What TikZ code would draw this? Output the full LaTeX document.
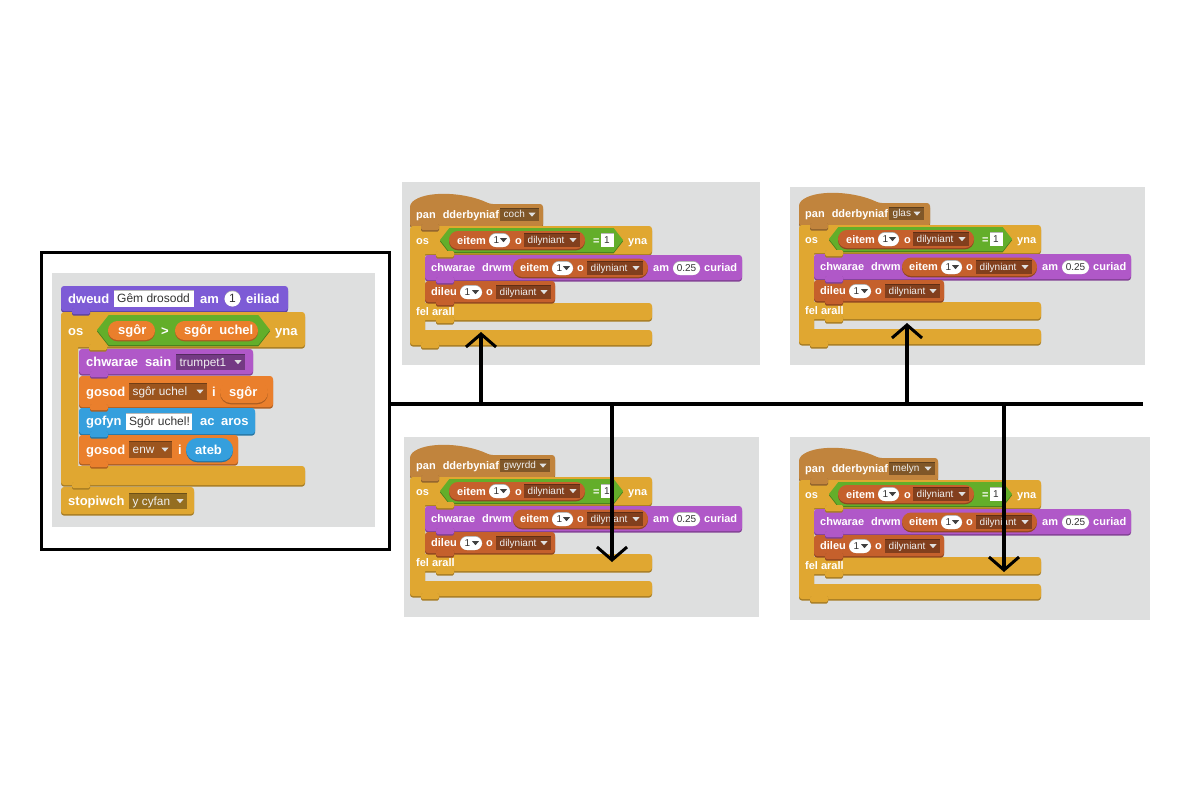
\documentclass[tikz,border=0pt]{standalone}
\usepackage{fontspec}
\setmainfont{Liberation Sans}
\usetikzlibrary{arrows.meta}
\pgfdeclarelayer{tabs}
\pgfsetlayers{main,tabs}
\definecolor{looks}{HTML}{7D5BD6}
\definecolor{sound}{HTML}{B058C8}
\definecolor{ctrl}{HTML}{E0A731}
\definecolor{oper}{HTML}{63AE2A}
\definecolor{data}{HTML}{EA7F2C}
\definecolor{list}{HTML}{C5602C}
\definecolor{events}{HTML}{C1843D}
\definecolor{sens}{HTML}{359FDD}
\definecolor{panel}{HTML}{DEDFDF}
\tikzset{
  bL/.style={anchor=base west,inner sep=0,text=white,font=\bfseries\fontsize{13}{15}\selectfont},
  bR/.style={anchor=base west,inner sep=0,text=white,font=\bfseries\fontsize{11}{13}\selectfont},
  ddL/.style={anchor=base west,inner sep=0,text=white!94!black,font=\fontsize{11.8}{13}\selectfont},
  ddR/.style={anchor=base west,inner sep=0,text=white!94!black,font=\fontsize{10}{11}\selectfont},
  inL/.style={anchor=base west,inner sep=0,text=black!80,font=\fontsize{12}{14}\selectfont},
  inR/.style={anchor=base west,inner sep=0,text=black!80,font=\fontsize{10}{12}\selectfont},
  conn/.style={line width=4.5pt,black},
  arr/.style={line width=4pt,black,-{Straight Barb[length=13pt,width=30pt,line width=3pt]}},
  framebox/.style={draw=black,line width=3pt,inner sep=0,minimum width=348pt,minimum height=297pt}
}
\newcommand\wsp{\hspace{7pt}}
\newcommand\tL[3]{\node[bL] at (#1,#2+4.7) {#3};}
\newcommand\tR[3]{\node[bR] at (#1,#2+4) {#3};}
% stack block body: x1 y1 x2 y2 colour
\newcommand\stk[5]{%
  \fill[#5!74!black,rounded corners=3] (#1,#2+1.6) rectangle (#3,#4+1.6);
  \fill[#5,rounded corners=3] (#1,#2) rectangle (#3,#4);}
% connection tab below a block: x (block left) y (block bottom) colour
\newcommand\tabm[3]{%
  \begin{pgfonlayer}{tabs}
  \fill[#3!74!black,rounded corners=1.5] (#1+11,#2-3) rectangle (#1+29,#2+4.6);
  \fill[#3,rounded corners=1.5] (#1+11,#2-3) rectangle (#1+29,#2+3);
  \end{pgfonlayer}}
% round reporter
\newcommand\rep[5]{%
  \pgfmathsetmacro\repr{(#4-#2)/2-0.05}%
  \fill[#5!72!black,rounded corners=\repr pt] (#1,#2+1.3) rectangle (#3,#4+1.3);
  \fill[#5,rounded corners=\repr pt] (#1,#2) rectangle (#3,#4);}
% boolean hexagon
\newcommand\hexb[5]{%
  \pgfmathsetmacro\hxh{(#4-#2)/2}\pgfmathsetmacro\hxs{0.78*\hxh}%
  \fill[#5!72!black] (#1,#2+\hxh+1.3) -- (#1+\hxs,#2+1.3) -- (#3-\hxs,#2+1.3) -- (#3,#2+\hxh+1.3) -- (#3-\hxs,#4+1.3) -- (#1+\hxs,#4+1.3) -- cycle;
  \fill[#5] (#1,#2+\hxh) -- (#1+\hxs,#2) -- (#3-\hxs,#2) -- (#3,#2+\hxh) -- (#3-\hxs,#4) -- (#1+\hxs,#4) -- cycle;}
% dropdown: style offset x1 y1 x2 y2 colour text
\newcommand\ddG[8]{%
  \fill[#7!66!black] (#3,#4) rectangle (#5,#6);
  \fill[#7!48!black] (#3,#4) rectangle (#5,#4+1.2);
  \node[#1] at (#3+3.5,{(#4+#6)/2+#2}) {#8};
  \fill[white!88!black] ({#5-10.5},{(#4+#6)/2-1.8}) -- ++(7,0) -- ++(-3.5,4) -- cycle;}
\newcommand\ddL[6]{\ddG{ddL}{4.1}{#1}{#2}{#3}{#4}{#5}{#6}}
\newcommand\ddR[6]{\ddG{ddR}{3.4}{#1}{#2}{#3}{#4}{#5}{#6}}
% white text box: style offset x1 y1 x2 y2 text
\newcommand\wboxG[7]{%
  \fill[black!28] (#3,#4) rectangle (#5,#6);
  \fill[white] (#3,#4+0.9) rectangle (#5,#6);
  \node[#1] at (#3+3,{(#4+#6)/2+#2}) {#7};}
% white oval: style offset x1 y1 x2 y2 text
\newcommand\wovG[7]{%
  \pgfmathsetmacro\repr{(#6-#4)/2-0.05}%
  \fill[black!30,rounded corners=\repr pt] (#3,#4) rectangle (#5,#6);
  \fill[white,rounded corners=\repr pt] (#3,#4+0.8) rectangle (#5,#6);
  \node[#1,anchor=base] at ({(#3+#5)/2},{(#4+#6)/2+#2}) {#7};}
% oval "1" with menu arrow
\newcommand\onedd[4]{%
  \pgfmathsetmacro\repr{(#4-#2)/2-0.05}%
  \fill[black!30,rounded corners=\repr pt] (#1,#2) rectangle (#3,#4);
  \fill[white,rounded corners=\repr pt] (#1,#2+0.8) rectangle (#3,#4);
  \node[inR] at (#1+4.5,{(#2+#4)/2+3.6}) {1};
  \fill[black!75] ({#3-10},{(#2+#4)/2-1.8}) -- ++(7,0) -- ++(-3.5,4) -- cycle;}
% right-hand script: ox oy menu-text menu-right hat-width
\newcommand\rpanel[5]{%
\begin{scope}[shift={(#1,#2)}]
  \fill[events!74!black,rounded corners=3] (0,-20.4) .. controls (15,-34.4) and (55,-32.4) .. (80,-20.4) -- (#5,-20.4) -- (#5,2.6) -- (0,2.6) -- cycle;
  \fill[events,rounded corners=3] (0,-22) .. controls (15,-36) and (55,-34) .. (80,-22) -- (#5,-22) -- (#5,1) -- (0,1) -- cycle;
  \tR{6}{-11.5}{pan\wsp dderbyniaf}
  \ddR{90}{-18}{#4}{-5}{events}{#3}
  \fill[ctrl!74!black,rounded corners=3] (0,1.6) rectangle (242,29.6) (0,1.6) rectangle (15,120.6) (0,78.6) rectangle (242,95.6) (0,105.6) rectangle (242,120.6);
  \fill[ctrl,rounded corners=3] (0,0) rectangle (242,28) (0,0) rectangle (15,119) (0,77) rectangle (242,94) (0,104) rectangle (242,119);
  \tR{6}{14.5}{os}
  \hexb{30}{2}{213}{26}{oper}
  \rep{39}{5}{175}{23}{list}
  \tR{47}{14}{eitem}
  \onedd{79}{7}{100}{21}
  \tR{105}{14}{o}
  \ddR{114}{7}{170}{21}{list}{dilyniant}
  \tR{183}{14}{=}
  \wboxG{inR}{3.6}{191}{7}{204}{21}{1}
  \tR{218}{14.5}{yna}
  \stk{15}{29}{332}{54}{sound}
  \tR{21}{41.5}{chwarae\wsp drwm}
  \rep{103}{32.5}{238}{51}{list}
  \tR{110}{41.5}{eitem}
  \onedd{142}{35}{163}{49}
  \tR{167}{41.5}{o}
  \ddR{177}{35}{233}{49}{list}{dilyniant}
  \tR{243}{41.5}{am}
  \wovG{inR}{3.6}{263}{35}{290}{49}{0.25}
  \tR{294}{41.5}{curiad}
  \stk{15}{55}{145}{76}{list}
  \tR{21}{65.5}{dileu}
  \onedd{50}{59}{72}{73}
  \tR{76}{65.5}{o}
  \ddR{86}{59}{141}{73}{list}{dilyniant}
  \tR{6}{85.5}{fel arall}
  \tabm{0}{1}{events}
  \tabm{15}{28}{ctrl}
  \tabm{15}{54}{sound}
  \tabm{15}{76}{list}
  \tabm{15}{94}{ctrl}
  \tabm{0}{119}{ctrl}
\end{scope}}
\begin{document}
\begin{tikzpicture}[x=1pt,y=-1pt]
\useasboundingbox (0,0) rectangle (1200,800);
\fill[white] (0,0) rectangle (1200,800);
% panels
\fill[panel] (52,273) rectangle (375,527);
\fill[panel] (402,182) rectangle (760,365);
\fill[panel] (790,187) rectangle (1145,365);
\fill[panel] (404,437) rectangle (759,617);
\fill[panel] (790,437) rectangle (1150,620);
\node[framebox] (frame) at (215,400.5) {};
% ---- left script ----
\stk{61}{286}{288}{311}{looks}
\tL{68}{298.5}{dweud}
\wboxG{inL}{4.3}{114}{290}{194}{307}{Gêm drosodd}
\tL{200}{298.5}{am}
\wovG{inL}{4.3}{224.5}{290.5}{240.5}{306.5}{1}
\tL{246}{298.5}{eiliad}
\fill[ctrl!74!black,rounded corners=3] (61,313.6) rectangle (305,348.6) (61,313.6) rectangle (78,486.6) (61,467.6) rectangle (305,486.6);
\fill[ctrl,rounded corners=3] (61,312) rectangle (305,347) (61,312) rectangle (78,485) (61,466) rectangle (305,485);
\tL{68}{331}{os}
\hexb{97}{315}{270}{345}{oper}
\rep{108}{321}{155}{340}{data}
\tL{118}{330}{sgôr}
\tL{161}{330.5}{>}
\rep{175}{321}{258}{340}{data}
\tL{184}{330}{sgôr\wsp uchel}
\tL{275}{331}{yna}
\stk{79}{349}{253}{374}{sound}
\tL{86}{361.5}{chwarae\wsp sain}
\ddL{176}{354}{245}{370}{sound}{trumpet1}
\stk{79}{376}{273}{407}{data}
\tL{86}{391.5}{gosod}
\ddL{129}{383}{207}{400}{data}{sgôr uchel}
\tL{212}{391.5}{i}
\rep{220}{381}{268}{403}{data}
\tL{229}{391.5}{sgôr}
\stk{79}{408}{255}{434}{sens}
\tL{86}{421}{gofyn}
\wboxG{inL}{4.3}{126}{413}{192}{430}{Sgôr uchel!}
\tL{200}{421}{ac}
\tL{221}{421}{aros}
\stk{79}{435}{238}{464}{data}
\tL{86}{449.5}{gosod}
\ddL{129}{441}{172}{458}{data}{enw}
\tL{178}{449.5}{i}
\rep{186}{438}{233}{461}{sens}
\tL{195}{449.5}{ateb}
\stk{61}{487}{194}{514}{ctrl}
\tL{68}{500.5}{stopiwch}
\ddL{129}{493}{187}{509}{ctrl}{y cyfan}
\tabm{61}{311}{looks}
\tabm{78}{347}{ctrl}
\tabm{79}{374}{sound}
\tabm{79}{407}{data}
\tabm{79}{434}{sens}
\tabm{79}{464}{data}
\tabm{61}{485}{ctrl}
% ---- right scripts ----
\rpanel{410}{226}{coch}{129}{133}
\rpanel{799}{225}{glas}{125}{131}
\rpanel{410}{477}{gwyrdd}{140}{145}
\rpanel{799}{480}{melyn}{136}{139}
% ---- connectors ----
\coordinate (hR) at (1143,404);
\coordinate (j1) at (481,404); \coordinate (t1) at (481,332);
\coordinate (j2) at (907,404); \coordinate (t2) at (907,323);
\coordinate (j3) at (612,404); \coordinate (t3) at (612,562);
\coordinate (j4) at (1004,404); \coordinate (t4) at (1004,572);
\draw[conn] (frame.east |- hR) -- (hR);
\draw[arr] (j1) -- (t1);
\draw[arr] (j2) -- (t2);
\draw[arr] (j3) -- (t3);
\draw[arr] (j4) -- (t4);
\end{tikzpicture}
\end{document}
